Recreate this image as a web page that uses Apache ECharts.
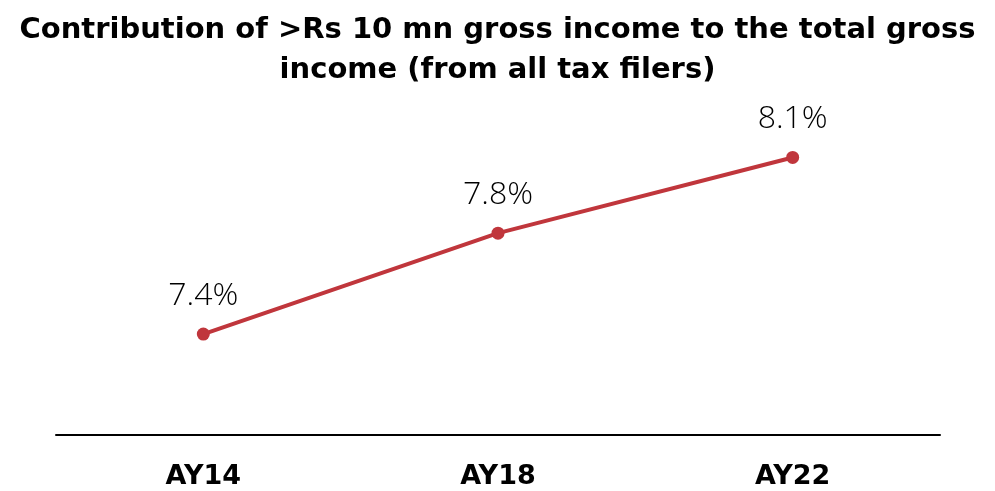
<!DOCTYPE html>
<html>
<head>
<meta charset="utf-8">
<script src="https://cdn.jsdelivr.net/npm/echarts@6/dist/echarts.min.js"></script>
<style>
  html, body { margin: 0; padding: 0; background: #ffffff; }
  #chart { width: 995px; height: 491px; }
</style>
</head>
<body>
<div id="chart"></div>
<script>
// Assessment years and share of gross income (%) from filers above Rs 10 mn
const categories = ['AY14', 'AY18', 'AY22'];
const shareValues = [7.4, 7.8, 8.1];

const chart = echarts.init(document.getElementById('chart'));

chart.setOption({
  backgroundColor: '#ffffff',
  animation: false,
  title: {
    text: 'Contribution of >Rs 10 mn gross income to the total gross\nincome (from all tax filers)',
    left: 'center',
    top: 5,
    textStyle: {
      fontFamily: 'DejaVu Sans',
      fontWeight: 'bold',
      fontSize: 29,
      lineHeight: 40,
      color: '#000000'
    }
  },
  grid: {
    left: 56,
    right: 55,
    top: 107,
    bottom: 56
  },
  xAxis: {
    type: 'category',
    data: categories,
    boundaryGap: true,
    axisLine: { lineStyle: { color: '#000000', width: 2 } },
    axisTick: { show: false },
    axisLabel: {
      margin: 28,
      fontFamily: 'DejaVu Sans',
      fontWeight: 'bold',
      fontSize: 27,
      color: '#000000'
    }
  },
  yAxis: {
    type: 'value',
    min: 7.0,
    max: 8.3,
    show: false,
    splitLine: { show: false }
  },
  series: [{
    type: 'line',
    data: shareValues,
    symbol: 'circle',
    symbolSize: 13,
    lineStyle: { color: '#C0363C', width: 4 },
    itemStyle: { color: '#C0363C' },
    label: {
      show: true,
      position: 'top',
      distance: 16,
      formatter: (p) => p.value.toFixed(1) + '%',
      fontFamily: 'Open Sans',
      fontWeight: 300,
      fontSize: 32,
      color: '#000000'
    }
  }]
});
</script>
</body>
</html>
